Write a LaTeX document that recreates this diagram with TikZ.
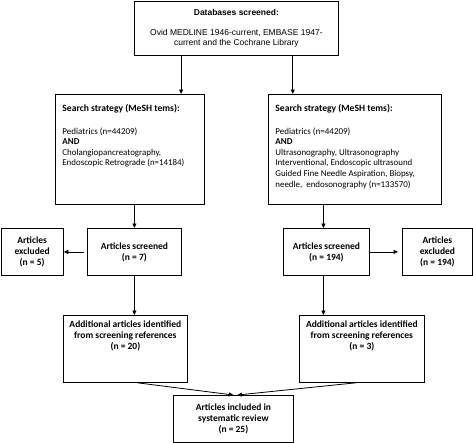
\documentclass[tikz,border=0pt]{standalone}
\usepackage{fontspec}
\setmainfont{Carlito}
\newfontfamily\arialfont{Liberation Sans}
\usetikzlibrary{arrows.meta, positioning, calc}

\begin{document}
\begin{tikzpicture}[x=1pt, y=-1pt,
  box/.style={draw, line width=0.8pt, anchor=north west, align=center, inner sep=1pt,
    font=\fontsize{9.5}{11}\selectfont\bfseries},
  termbox/.style={draw, line width=0.8pt, anchor=north west, inner xsep=7pt, inner ysep=0pt,
    font=\fontsize{8.9}{10.7}\selectfont},
  arr/.style={line width=0.8pt, -{Triangle[length=4.5pt,width=4pt]}}]
\useasboundingbox (0,0) rectangle (473,442);

% databases
\node[box, font=\arialfont\fontsize{8.5}{10}\selectfont, minimum width=204pt, minimum height=54pt] (db) at (134,0.5)
  {\textbf{Databases screened:}\\[10pt]Ovid MEDLINE 1946-current, EMBASE 1947-\\current and the Cochrane Library};

% search strategies
\node[termbox] (sl) at (55,94) {\parbox[c][110pt][t]{135pt}{\raggedright\vspace*{10pt}%
  {\fontsize{9.6}{10}\selectfont\textbf{Search strategy (MeSH tems):}\par}\vspace{13pt}%
  {\fontsize{9}{10}\selectfont Pediatrics (n=44209)\par\textbf{AND}\par}%
  Cholangiopancreatography,\\Endoscopic Retrograde (n=14184)\par}};
\node[termbox] (sr) at (268,94) {\parbox[c][110pt][t]{159pt}{\raggedright\vspace*{10pt}%
  {\fontsize{9.6}{10}\selectfont\textbf{Search strategy (MeSH tems):}\par}\vspace{13pt}%
  {\fontsize{9}{10}\selectfont Pediatrics (n=44209)\par\textbf{AND}\par}%
  Ultrasonography, Ultrasonography\\Interventional, Endoscopic ultrasound\\Guided Fine Needle Aspiration, Biopsy,\\needle,\ \ endosonography (n=133570)\par}};

% screening
\node[box, minimum width=94pt, minimum height=47pt] (scrl) at (87,228) {Articles screened\\(n = 7)};
\node[box, minimum width=62.5pt, minimum height=47pt] (excl) at (0.5,228) {Articles\\excluded\\(n = 5)};
\node[box, minimum width=86pt, minimum height=47pt] (scrr) at (283,228) {Articles screened\\(n = 194)};
\node[box, minimum width=70pt, minimum height=47pt] (excr) at (402,228) {Articles\\excluded\\(n = 194)};

% references and result
\node[box, inner sep=0pt] (addl) at (63,315) {\parbox[c][67pt][t]{124pt}{\centering\vspace*{5pt}%
  Additional articles identified\\from screening references\\(n = 20)}};
\node[box, inner sep=0pt] (addr) at (299,315) {\parbox[c][67pt][t]{125pt}{\centering\vspace*{5pt}%
  Additional articles identified\\from screening references\\(n = 3)}};
\node[box, minimum width=120pt, minimum height=46.5pt] (fin) at (173,395) {Articles included in\\systematic review\\(n = 25)};

% connectors
\coordinate (colr) at ($(scrr.north)+(-3,0)$);
\draw[arr] ($(db.south west)!0.23!(db.south east)$) coordinate (dbl) -- (dbl |- sl.north);
\draw[arr] ($(db.south west)!0.775!(db.south east)$) coordinate (dbr) -- (dbr |- sr.north);
\draw[arr] (scrl.north |- sl.south) -- (scrl.north);
\draw[arr] (colr |- sr.south) -- (colr);
\draw[arr, shorten <=3pt] (scrl.west) -- (excl.east);
\draw[arr, shorten >=4pt] (scrr.east) -- (excr.west);
\draw[arr] (scrl.south) -- (scrl.south |- addl.north);
\draw[arr] (colr |- scrr.south) -- (colr |- addr.north);
\draw[arr] ($(addl.south)+(12,0)$) -- (fin.north);
\draw[arr] ($(addr.south)+(-6,0)$) -- ($(fin.north)+(4,0)$);
\end{tikzpicture}
\end{document}
